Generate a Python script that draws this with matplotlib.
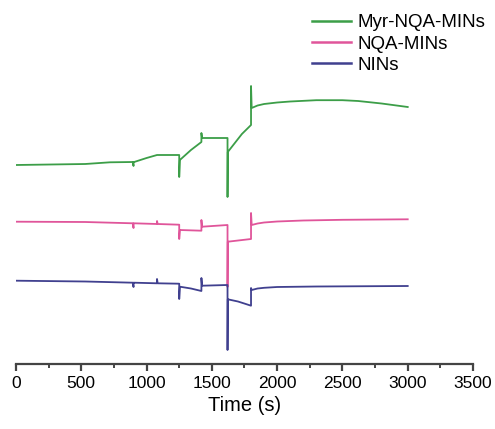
import matplotlib
matplotlib.use("Agg")
import matplotlib.pyplot as plt
from matplotlib.ticker import MultipleLocator

plt.rcParams['font.family'] = ['Liberation Sans', 'DejaVu Sans']

# Time (s) and signal (arbitrary units, offset traces)
t_myr = [0, 530, 720, 895, 900, 900, 905, 1000, 1080, 1250, 1250, 1255, 1340, 1420, 1420, 1425,
         1620, 1620, 1622, 1730, 1800, 1800, 1805, 1850, 1900, 2000, 2100, 2300, 2500, 2620,
         2800, 3000]
v_myr = [199, 200, 201.7, 202, 198, 202, 202, 206, 209, 209, 187, 204, 214, 222, 231, 226,
         226, 167, 212, 230, 239, 278, 256, 258.5, 260, 261.5, 262.5, 263.8, 263.8, 263,
         260.5, 257]

t_nqa = [0, 530, 895, 900, 900, 905, 1080, 1080, 1085, 1250, 1250, 1255, 1420, 1420, 1425,
         1620, 1620, 1622, 1800, 1800, 1805, 1850, 1900, 2000, 2200, 2500, 3000]
v_nqa = [142.3, 142, 140.7, 136, 140.7, 140.7, 140, 143, 140, 139.3, 125, 134, 133.3, 144, 137.3,
         139, 77, 122.3, 125, 151, 139, 140.5, 141.5, 142.5, 143.5, 144.2, 144.7]

t_nin = [0, 530, 895, 900, 900, 905, 1080, 1080, 1085, 1250, 1250, 1255, 1340, 1420, 1420, 1425,
         1620, 1620, 1622, 1700, 1760, 1800, 1800, 1805, 1850, 1900, 2000, 2300, 3000]
v_nin = [83.3, 82.5, 81.3, 77, 81.3, 81.3, 80.7, 85, 80.7, 80.3, 65, 77.3, 75.5, 73, 86, 78.3,
         79, 14, 64.7, 62.5, 60, 58.3, 76, 74, 75.5, 76.2, 77, 77.5, 78]

labels = ['Myr-NQA-MINs', 'NQA-MINs', 'NINs']
colors = ['#3c9e48', '#e0559a', '#40408f']

fig = plt.figure(figsize=(4.95, 4.29), dpi=100)
ax = fig.add_axes([16/495, 65/429, 457/495, 364/429])

ax.plot(t_myr, v_myr, color=colors[0], lw=1.3, label=labels[0])
ax.plot(t_nqa, v_nqa, color=colors[1], lw=1.3, label=labels[1])
ax.plot(t_nin, v_nin, color=colors[2], lw=1.3, label=labels[2])

ax.set_xlim(0, 3500)
ax.set_ylim(0, 364)
for s in ['left', 'right', 'top']:
    ax.spines[s].set_visible(False)
ax.spines['bottom'].set_linewidth(1.6)
ax.spines['bottom'].set_color('#444444')
ax.set_yticks([])
ax.xaxis.set_major_locator(MultipleLocator(500))
ax.xaxis.set_minor_locator(MultipleLocator(250))
ax.tick_params(axis='x', which='major', length=5, width=1.6, color='#444444',
               labelsize=12.5, pad=4)
ax.tick_params(axis='x', which='minor', length=3, width=1.4, color='#444444')
ax.set_xlabel('Time (s)', fontsize=14.5, labelpad=3)

leg = ax.legend(loc='upper left', bbox_to_anchor=(312/495, 1 - 14/429),
                bbox_transform=fig.transFigure, frameon=False, fontsize=13.5,
                handlelength=2.1, handletextpad=0.35, labelspacing=0.23,
                borderpad=0, borderaxespad=0)
for h in leg.get_lines():
    h.set_linewidth(1.8)

fig.savefig('out.png', dpi=100)
